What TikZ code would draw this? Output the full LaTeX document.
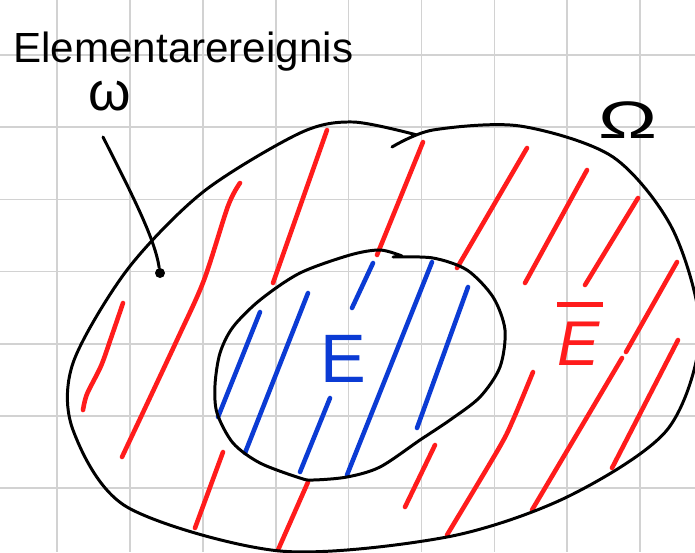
\documentclass[tikz,border=0pt]{standalone}
\usepackage{fontspec}
\setmainfont{Liberation Sans}
\usetikzlibrary{calc}
\definecolor{penred}{HTML}{FF1C1C}
\definecolor{penblue}{HTML}{0B3BD4}
\definecolor{gridgray}{HTML}{D2D2D2}
\tikzset{
  outline/.style={line width=1.7pt, line cap=round, line join=round},
  redhatch/.style={penred, line width=2.6pt, line cap=round},
  bluehatch/.style={penblue, line width=2.6pt, line cap=round},
  inkdot/.style={circle, fill=black, inner sep=0pt, minimum size=2mm},
}

\begin{document}
\begin{tikzpicture}[x=0.02cm, y=-0.02cm]
  \useasboundingbox (0,0) rectangle (695,552);
  \fill[white] (0,0) rectangle (695,552);
  \clip (0,0) rectangle (695,552);
  % grid
  \foreach \k in {-1,...,9} {
    \draw[gridgray, line width=1pt] ({57+72.9*\k},0) -- ({57+72.9*\k},552);
  }
  \foreach \k in {-1,...,8} {
    \draw[gridgray, line width=1pt] (0,{55+72.2*\k}) -- (695,{55+72.2*\k});
  }
  % red strokes (outside E)
  \foreach \xa/\ya/\xb/\yb in {327/130/273/283, 423/142/377/255, 527/148/457/268,
      587/170/525/283, 638/198/585/285, 677/262/626/352, 622/358/532/510,
      678/340/612/468, 435/445/405/507, 308/482/278/550, 223/452/195/528} {
    \draw[redhatch] (\xa,\ya) -- (\xb,\yb);
  }
  \draw[redhatch] plot[smooth] coordinates {(240,183) (228,206) (204,280) (177,340) (122,457)};
  \draw[redhatch] plot[smooth] coordinates {(123,303) (111,338) (101,366) (87,394) (83,410)};
  \draw[redhatch] plot[smooth] coordinates {(533,372) (513,420) (499,448) (447,535)};
  % blue strokes (inside E)
  \foreach \xa/\ya/\xb/\yb in {260/312/218/417, 308/293/245/453, 373/263/352/308,
      330/398/300/472, 432/262/347/475, 468/287/417/428} {
    \draw[bluehatch] (\xa,\ya) -- (\xb,\yb);
  }
  % Omega
  \draw[outline] plot[smooth] coordinates {(392,147) (433,130) (520,126) (613,157)
    (673,230) (700,333) (667,430) (567,497) (447,537) (280,551) (127,507) (73,430)
    (73,363) (127,270) (203,192) (300,133) (353,122) (417,135)};
  % E
  \draw[outline] plot[smooth] coordinates {(393,257) (433,258) (467,270) (493,297)
    (505,330) (500,367) (480,397) (450,420) (420,440) (380,467) (347,477) (313,480)
    (300,478) (260,463) (233,443) (217,413) (215,385) (220,353) (233,327) (260,300)
    (300,273) (350,255) (380,250) (402,256)};
  % labels
  \node[anchor=base west, inner sep=0pt, font=\fontsize{24}{28}\selectfont] (elemlabel)
    at (13,62) {Elementarereignis};
  \node[anchor=base, inner sep=0pt, font=\fontsize{31}{34}\selectfont] (omega)
    at (110,110) {ω};
  \coordinate (ptrtail) at (103,137);
  \node[inkdot] (omegapt) at (160,273) {};
  \draw[outline] (ptrtail) .. controls (135,200) and (155,240) .. (omegapt);
  \node[anchor=base, inner sep=0pt, font=\fontsize{30}{34}\selectfont] (Omega)
    at (628,138) {\scalebox{1.5}[1]{Ω}};
  \node[anchor=base, inner sep=0pt, text=penblue, font=\fontsize{39}{42}\selectfont] (E)
    at (343,382) {E};
  \node[anchor=base, inner sep=0pt, text=penred, font=\fontsize{36}{40}\selectfont] (Ebar)
    at (580,365) {$\fontdimen8\textfont3=2.4pt \overline{\mbox{\rule{0pt}{26pt}\itshape E\kern2pt}}$};
\end{tikzpicture}
\end{document}
